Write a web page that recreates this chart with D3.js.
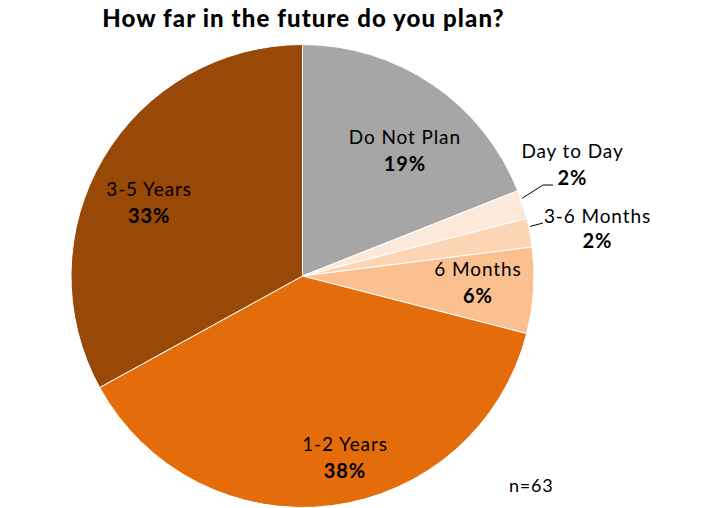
<!DOCTYPE html>
<html>
<head>
<meta charset="utf-8">
<script src="https://cdn.jsdelivr.net/npm/d3@7"></script>
<style>
  html, body { margin: 0; padding: 0; background: #ffffff; }
  svg { display: block; }
  text { font-family: Lato, "Open Sans", "DejaVu Sans", sans-serif; fill: #000; }
</style>
</head>
<body>
<svg id="chart" width="719" height="508"></svg>
<script>
// Survey answers (n=63), share of respondents in percent
const categories = ["Do Not Plan", "Day to Day", "3-6 Months", "6 Months", "1-2 Years", "3-5 Years"];
const shares = [19, 2, 2, 6, 38, 33];
const colors = ["#a6a6a6", "#fde9d9", "#fcd5b5", "#fac090", "#e46c0a", "#984807"];
const titleText = "How far in the future do you plan?";
const noteText = "n=63";

// Label placement: polar position of the first text baseline
// (radius, angle shift in degrees from the slice middle)
const insideLabels = {
  "Do Not Plan": { r: 167, shift: 3.6 },
  "6 Months":    { r: 175.5, shift: -3.6 },
  "1-2 Years":   { r: 180, shift: -6.45 },
  "3-5 Years":   { r: 173, shift: -3.1 }
};
// Outside labels with leader lines: elbow and text offsets relative to the pie centre
const outsideLabels = {
  "Day to Day": { elbow: [240.5, -91], end: [250.5, -91], text: [270, -118], gap: 27 },
  "3-6 Months": { elbow: [240.5, -53], end: [240.5, -53], text: [295, -53], gap: 24.5 }
};

const svg = d3.select("#chart");
const cx = 302.5, cy = 276, R = 231.5;

const data = categories.map((c, i) => ({ name: c, value: shares[i], color: colors[i] }));

const pie = d3.pie().value(d => d.value).sort(null);
const arcs = pie(data);
const arc = d3.arc().innerRadius(0).outerRadius(R);

const g = svg.append("g").attr("transform", `translate(${cx},${cy})`);

g.selectAll("path.slice")
  .data(arcs)
  .join("path")
  .attr("class", "slice")
  .attr("d", arc)
  .attr("fill", d => d.data.color)
  .attr("stroke", "#ffffff")
  .attr("stroke-width", 1);

const polar = (r, a) => [r * Math.sin(a), -r * Math.cos(a)];
const pct = v => `${v}%`;

function twoLineLabel(x, y, gap, name, value) {
  const t = g.append("text")
    .attr("text-anchor", "middle")
    .attr("font-size", 19)
    .attr("letter-spacing", 0.9);
  t.append("tspan").attr("x", x).attr("y", y).text(name);
  t.append("tspan").attr("x", x).attr("y", y + gap)
    .attr("font-weight", "bold").attr("font-size", 20).text(pct(value));
}

// Labels inside the larger slices
arcs.filter(d => insideLabels[d.data.name]).forEach(d => {
  const L = insideLabels[d.data.name];
  const mid = (d.startAngle + d.endAngle) / 2 + L.shift * Math.PI / 180;
  const [x, y] = polar(L.r, mid);
  twoLineLabel(x, y, 27, d.data.name, d.data.value);
});

// Labels outside the thin slices, with leader lines
arcs.filter(d => outsideLabels[d.data.name]).forEach(d => {
  const L = outsideLabels[d.data.name];
  const mid = (d.startAngle + d.endAngle) / 2 - 1.5 * Math.PI / 180;
  const start = polar(R + 1.5, mid);
  g.append("polyline")
    .attr("points", [start, L.elbow, L.end].map(p => p.join(",")).join(" "))
    .attr("fill", "none")
    .attr("stroke", "#000")
    .attr("stroke-width", 1);
  twoLineLabel(L.text[0], L.text[1], L.gap, d.data.name, d.data.value);
});

// Title
svg.append("text")
  .attr("x", 303.5)
  .attr("y", 27)
  .attr("text-anchor", "middle")
  .attr("font-size", 24)
  .attr("font-weight", 900)
  .attr("letter-spacing", 1.1)
  .text(titleText);

// Sample size note
svg.append("text")
  .attr("x", 509)
  .attr("y", 492)
  .attr("font-size", 18)
  .attr("letter-spacing", 0.8)
  .attr("fill", "#333")
  .text(noteText);
</script>
</body>
</html>
